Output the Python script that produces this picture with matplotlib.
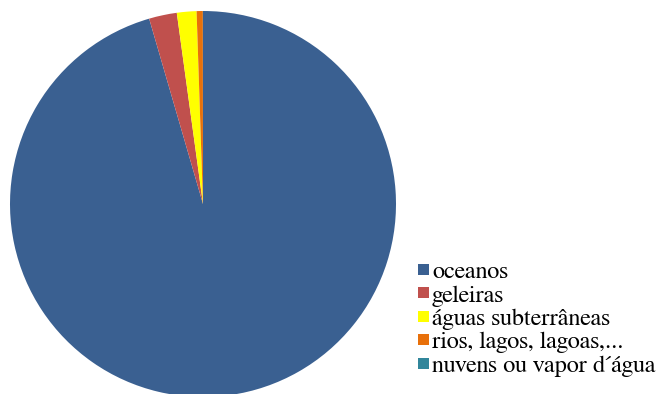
import matplotlib
matplotlib.use("Agg")
import matplotlib.pyplot as plt
from matplotlib.patches import Patch

categories = ["oceanos", "geleiras", "águas subterrâneas", "rios, lagos, lagoas,...", "nuvens ou vapor d´água"]
values = [95.5, 2.33, 1.64, 0.52, 0.01]
colors = ["#3A6091", "#C0504D", "#FFFF00", "#E8700A", "#31869B"]

plt.rcParams["font.family"] = ["FreeSerif", "STIXGeneral", "Liberation Serif", "DejaVu Serif"]

W, H = 666, 394
fig = plt.figure(figsize=(W / 100, H / 100), dpi=100)
cx, cy, r = 203, 204, 193
ax = fig.add_axes([(cx - r) / W, (H - cy - r) / H, 2 * r / W, 2 * r / H])
ax.pie(values, colors=colors, startangle=90, counterclock=False, radius=1,
       wedgeprops=dict(linewidth=0))
ax.set_xlim(-1, 1)
ax.set_ylim(-1, 1)
ax.set_aspect("equal")
ax.axis("off")

handles = [Patch(facecolor=c, edgecolor="none") for c in colors]
fig.legend(handles, categories, loc="upper left", bbox_to_anchor=(418 / W, 1 - 262 / H),
           frameon=False, fontsize=17.6,
           handlelength=0.45, handleheight=0.32, handletextpad=0.12,
           labelspacing=0.08, borderpad=0, borderaxespad=0)

fig.savefig("out.png", dpi=100)
